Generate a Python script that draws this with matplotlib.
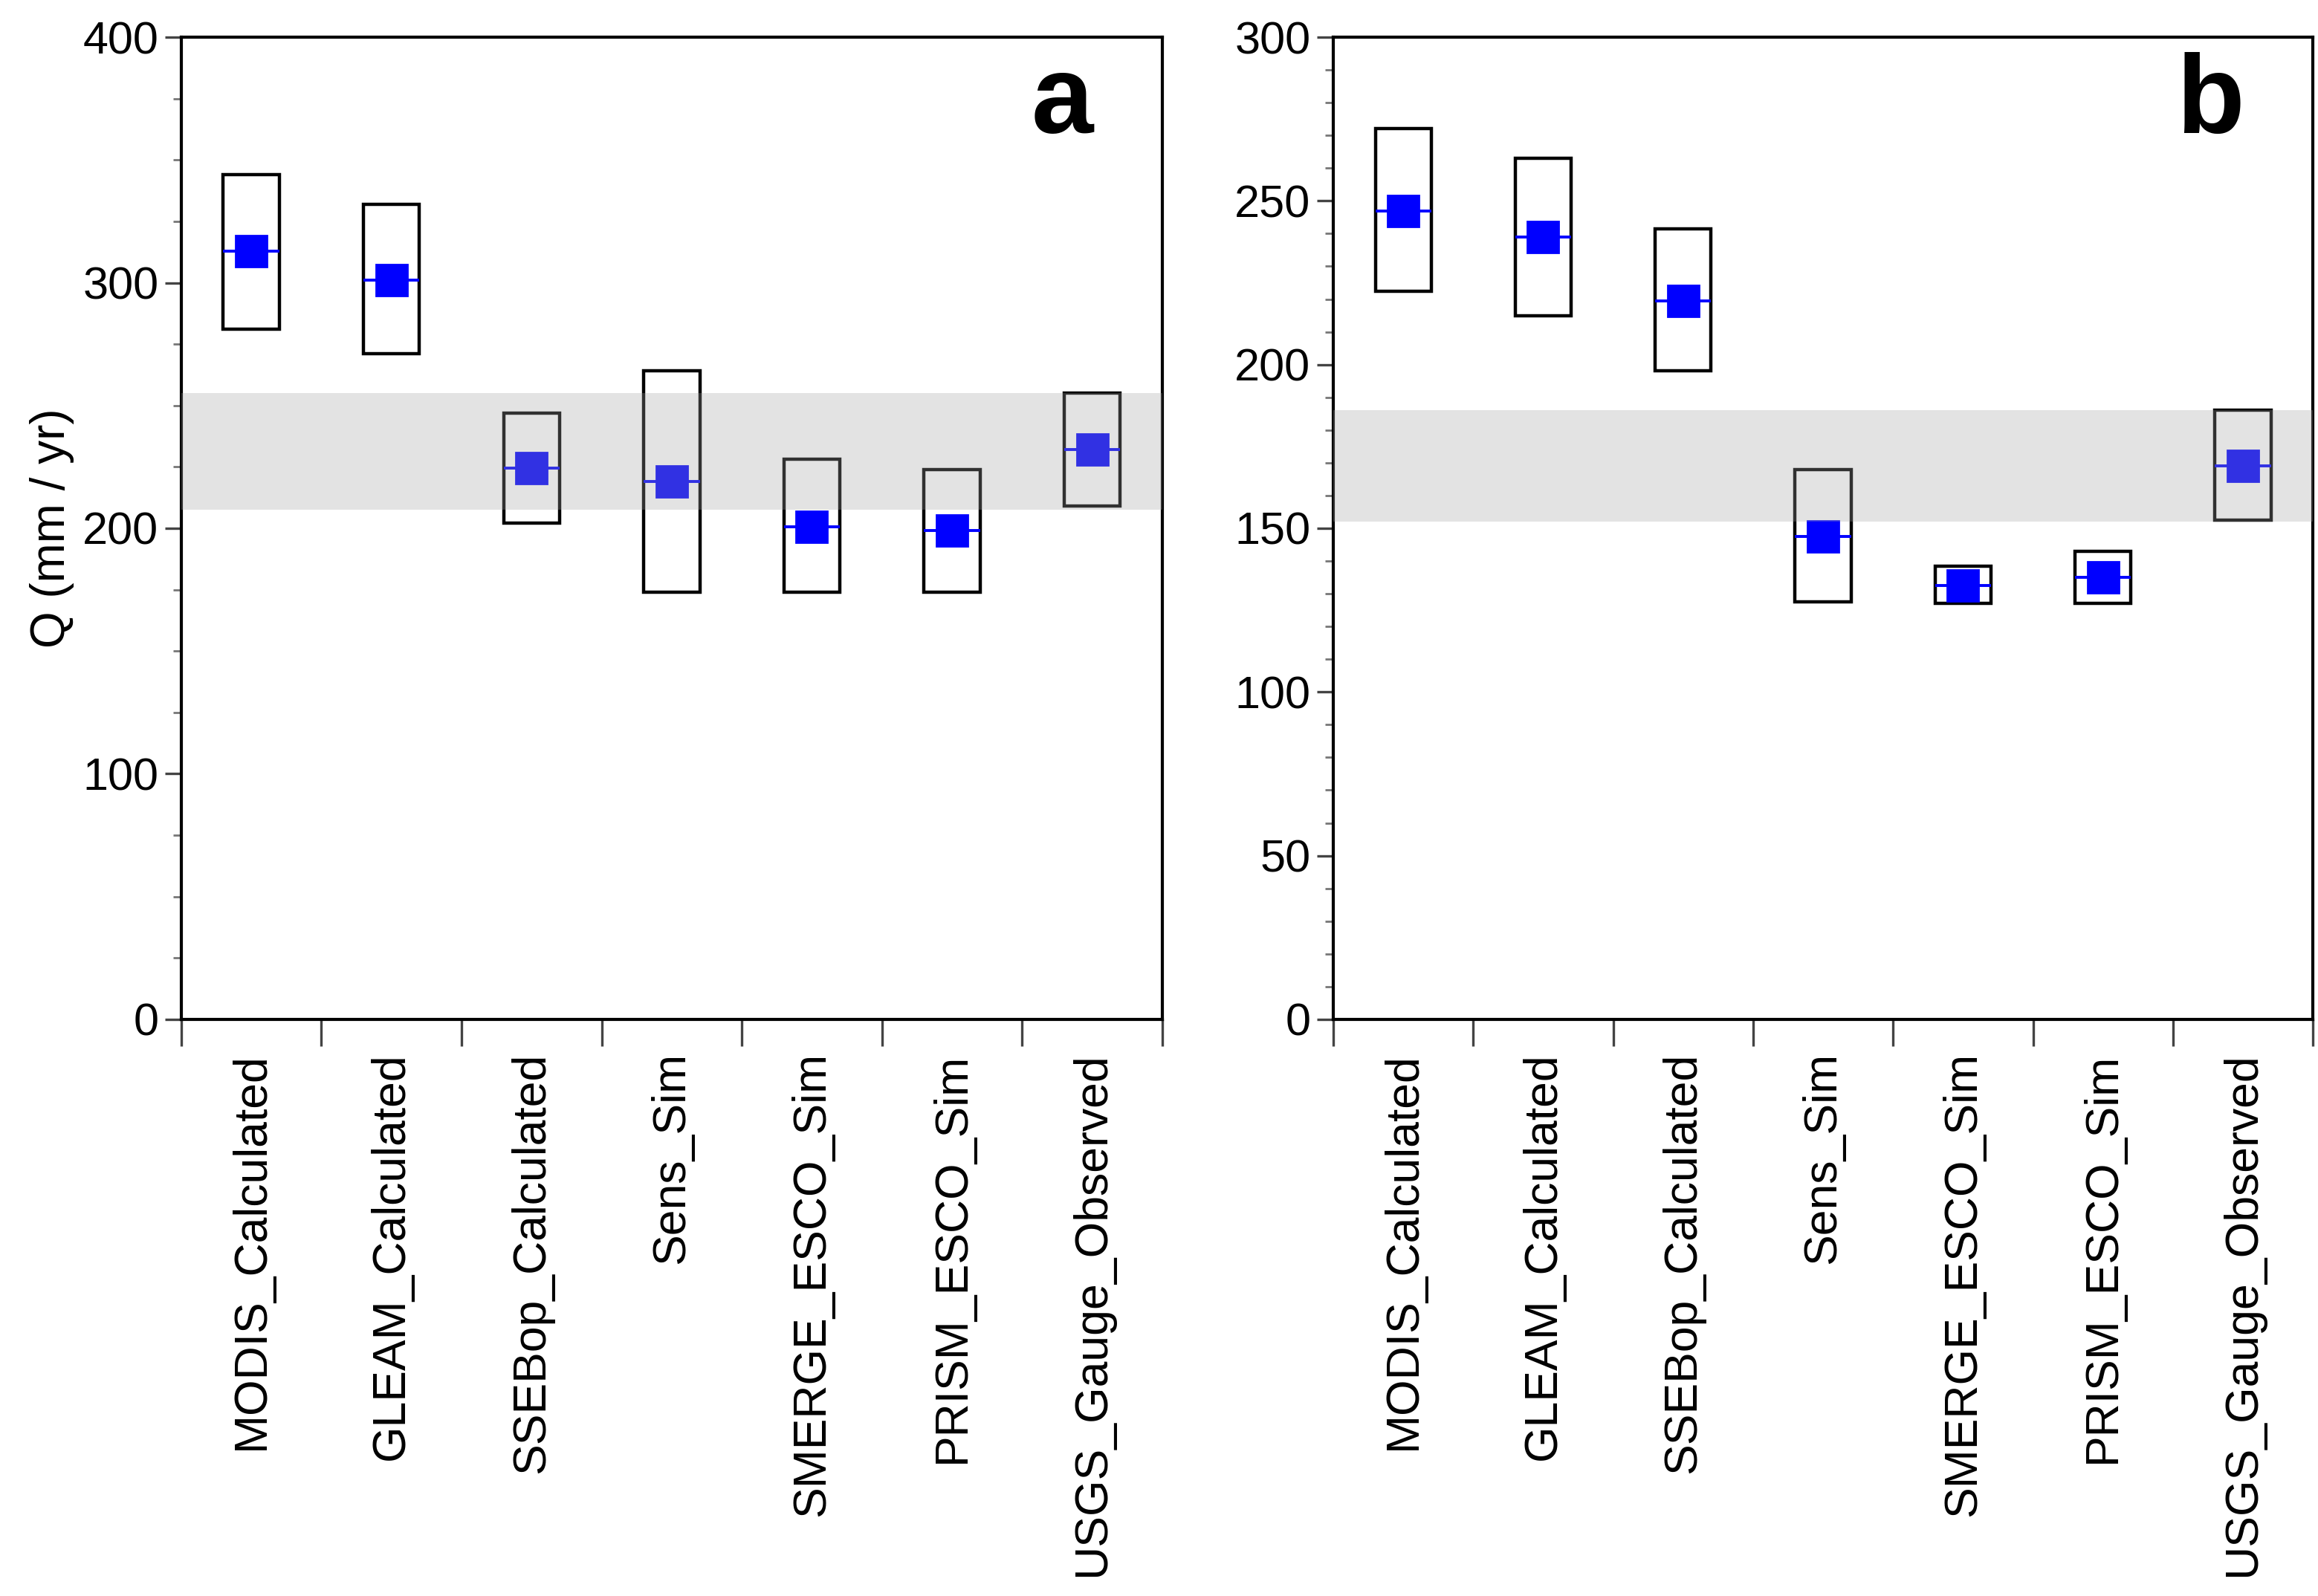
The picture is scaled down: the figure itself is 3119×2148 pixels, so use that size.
import numpy as np
import matplotlib
matplotlib.use("Agg")
import matplotlib.pyplot as plt
from matplotlib.ticker import MultipleLocator

plt.rcParams['font.family'] = ['Liberation Sans', 'DejaVu Sans']

# カテゴリ
labels = ["MODIS_Calculated", "GLEAM_Calculated", "SSEBop_Calculated", "Sens_Sim",
          "SMERGE_ESCO_Sim", "PRISM_ESCO_Sim", "USGS_Gauge_Observed"]

# パネル a
a_low = [281, 271, 202, 174, 174, 174, 209]
a_high = [344, 332, 247, 264, 228, 224, 255]
a_mid = [313, 301, 224.5, 219, 200.5, 199, 232]
a_band = (207.5, 255)

# パネル b
b_low = [222.5, 215, 198, 127.5, 127, 127, 152.5]
b_high = [272, 263, 241.5, 168, 138.5, 143, 186]
b_mid = [247, 239, 219.5, 147.5, 132.5, 135, 169]
b_band = (152, 186)

fig = plt.figure(figsize=(15.595, 10.74), dpi=200)
ax_a = fig.add_axes([0.0782, 0.3613, 0.4232, 0.6154])
ax_b = fig.add_axes([0.5752, 0.3613, 0.4226, 0.6154])


def panel(ax, low, high, mid, band, ymax, major, minor, letter):
    x = np.arange(len(labels))
    low = np.array(low)
    high = np.array(high)
    w = 0.4
    ax.bar(x, high - low, bottom=low, width=w, fill=False,
           edgecolor='black', linewidth=1.6, zorder=2)
    ax.hlines(mid, x - w / 2, x + w / 2, colors='#0000ff', linewidth=1.4, zorder=3)
    ax.plot(x, mid, 's', color='#0000ff', markersize=15, zorder=4)
    # 灰色の帯(上に重ねる)
    ax.axhspan(band[0], band[1], color='#a5a5a5', alpha=0.3, linewidth=0, zorder=5)

    ax.set_xlim(-0.5, len(labels) - 0.5)
    ax.set_ylim(0, ymax)
    ax.set_xticks(np.arange(len(labels) + 1) - 0.5)
    ax.set_xticklabels([])
    ax.set_xticks(x, minor=True)
    ax.set_xticklabels(labels, minor=True, rotation=90, va='top', fontsize=22.5)
    ax.tick_params(axis='x', which='major', length=13, width=1.2, color='#444444')
    ax.tick_params(axis='x', which='minor', length=0, pad=16)
    ax.yaxis.set_major_locator(MultipleLocator(major))
    ax.yaxis.set_minor_locator(MultipleLocator(minor))
    ax.tick_params(axis='y', which='major', length=8, width=1.2, labelsize=22,
                   color='#444444', pad=3)
    ax.tick_params(axis='y', which='minor', length=4, width=1.0, color='#777777')
    for s in ax.spines.values():
        s.set_linewidth(1.5)
    ax.text(0.93, 0.985, letter, transform=ax.transAxes, ha='right', va='top',
            fontsize=54, fontweight='bold')


panel(ax_a, a_low, a_high, a_mid, a_band, 400, 100, 25, 'a')
panel(ax_b, b_low, b_high, b_mid, b_band, 300, 50, 10, 'b')
ax_a.set_ylabel("Q (mm / yr)", fontsize=23, labelpad=4)

fig.savefig("out.png", dpi=200)
